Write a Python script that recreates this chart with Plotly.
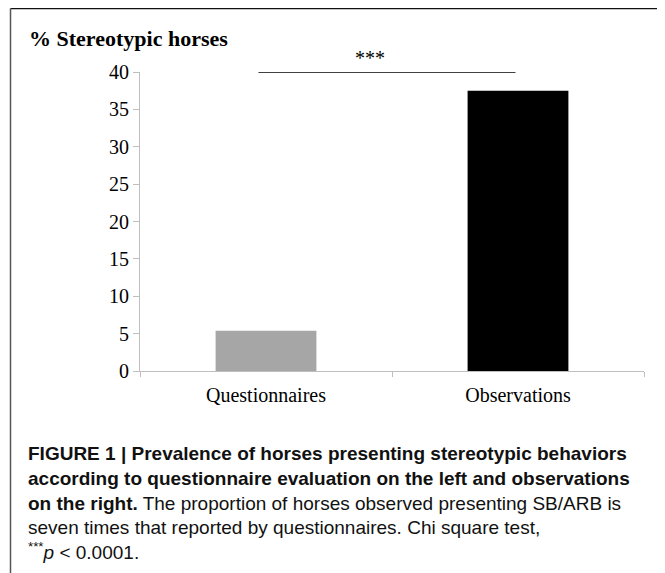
import plotly.graph_objects as go

categories = ["Questionnaires", "Observations"]
values = [5.4, 37.5]
bar_colors = ["#a6a6a6", "#000000"]
y_ticks = [0, 5, 10, 15, 20, 25, 30, 35, 40]

# page body has an 8px margin; work in screen coordinates and convert
OFF = 8
W, H = 665 - OFF, 573 - OFF
L = 140 - OFF
R = W - (644 - OFF)
T = 72 - OFF
B = H - (371 - OFF)
pw, ph = W - L - R, H - T - B

def px(xs):
    return (xs - OFF - L) / pw

def py(ys):
    return (H - B - (ys - OFF)) / ph

fig = go.Figure(go.Bar(x=categories, y=values, marker_color=bar_colors,
                       marker_line_width=0, width=0.4))

serif = "Liberation Serif, Times New Roman, serif"
sans = "Liberation Sans Narrow, Arial Narrow, Liberation Sans, Arial, sans-serif"

fig.update_layout(
    width=W, height=H, margin=dict(l=L, r=R, t=T, b=B),
    paper_bgcolor="white", plot_bgcolor="white", showlegend=False,
    font=dict(family=serif, size=20, color="#000"),
    xaxis=dict(showline=True, linecolor="#bfbfbf", linewidth=1, ticks="outside",
               tickson="boundaries", ticklen=5, tickcolor="#bfbfbf",
               ticklabelstandoff=6,
               tickfont=dict(family=serif, size=20, color="#000"), showgrid=False),
    yaxis=dict(range=[0, 40], tickvals=y_ticks, showline=True, linecolor="#bfbfbf",
               linewidth=1, ticks="outside", ticklen=6, tickcolor="#bfbfbf",
               tickfont=dict(family=serif, size=20, color="#000"), showgrid=False,
               zeroline=False),
)

shapes = [
    dict(type="line", xref="x", yref="y", x0=-0.03, x1=0.99, y0=40, y1=40,
         line=dict(color="#000", width=1.5)),
    # frame around figure + caption
    dict(type="line", xref="paper", yref="paper", x0=px(10.5), x1=px(660),
         y0=py(8.6), y1=py(8.6), line=dict(color="#111", width=1.2)),
    dict(type="line", xref="paper", yref="paper", x0=px(10.5), x1=px(10.5),
         y0=py(8.6), y1=py(620), line=dict(color="#555", width=1.5)),
    dict(type="line", xref="paper", yref="paper", x0=px(660), x1=px(660),
         y0=py(8.6), y1=py(620), line=dict(color="#777", width=2)),
]
fig.update_layout(shapes=shapes)

ann = [
    dict(text="<b>% Stereotypic horses</b>", x=px(27), y=py(38), xanchor="left",
         yanchor="middle", font=dict(family=serif, size=22, color="#000")),
    dict(text="***", x=px(370), y=py(58), xanchor="center", yanchor="middle",
         font=dict(family=serif, size=20, color="#000")),
]
cap_lines = [
    "<b>FIGURE 1 | Prevalence of horses presenting stereotypic behaviors</b>",
    "<b>according to questionnaire evaluation on the left and observations</b>",
    "<b>on the right.</b> The proportion of horses observed presenting SB/ARB is",
    "seven times that reported by questionnaires. Chi square test,",
    "<sup>***</sup><i>p</i> &lt; 0.0001.",
]
cap_y = [453, 478, 503, 527, 551]
for t, yy in zip(cap_lines, cap_y):
    ann.append(dict(text=t, x=px(26), y=py(yy), xanchor="left", yanchor="middle",
                    font=dict(family=sans, size=19, color="#111")))
for a in ann:
    a.update(xref="paper", yref="paper", showarrow=False)
fig.update_layout(annotations=ann)

fig.write_html("out.html")
